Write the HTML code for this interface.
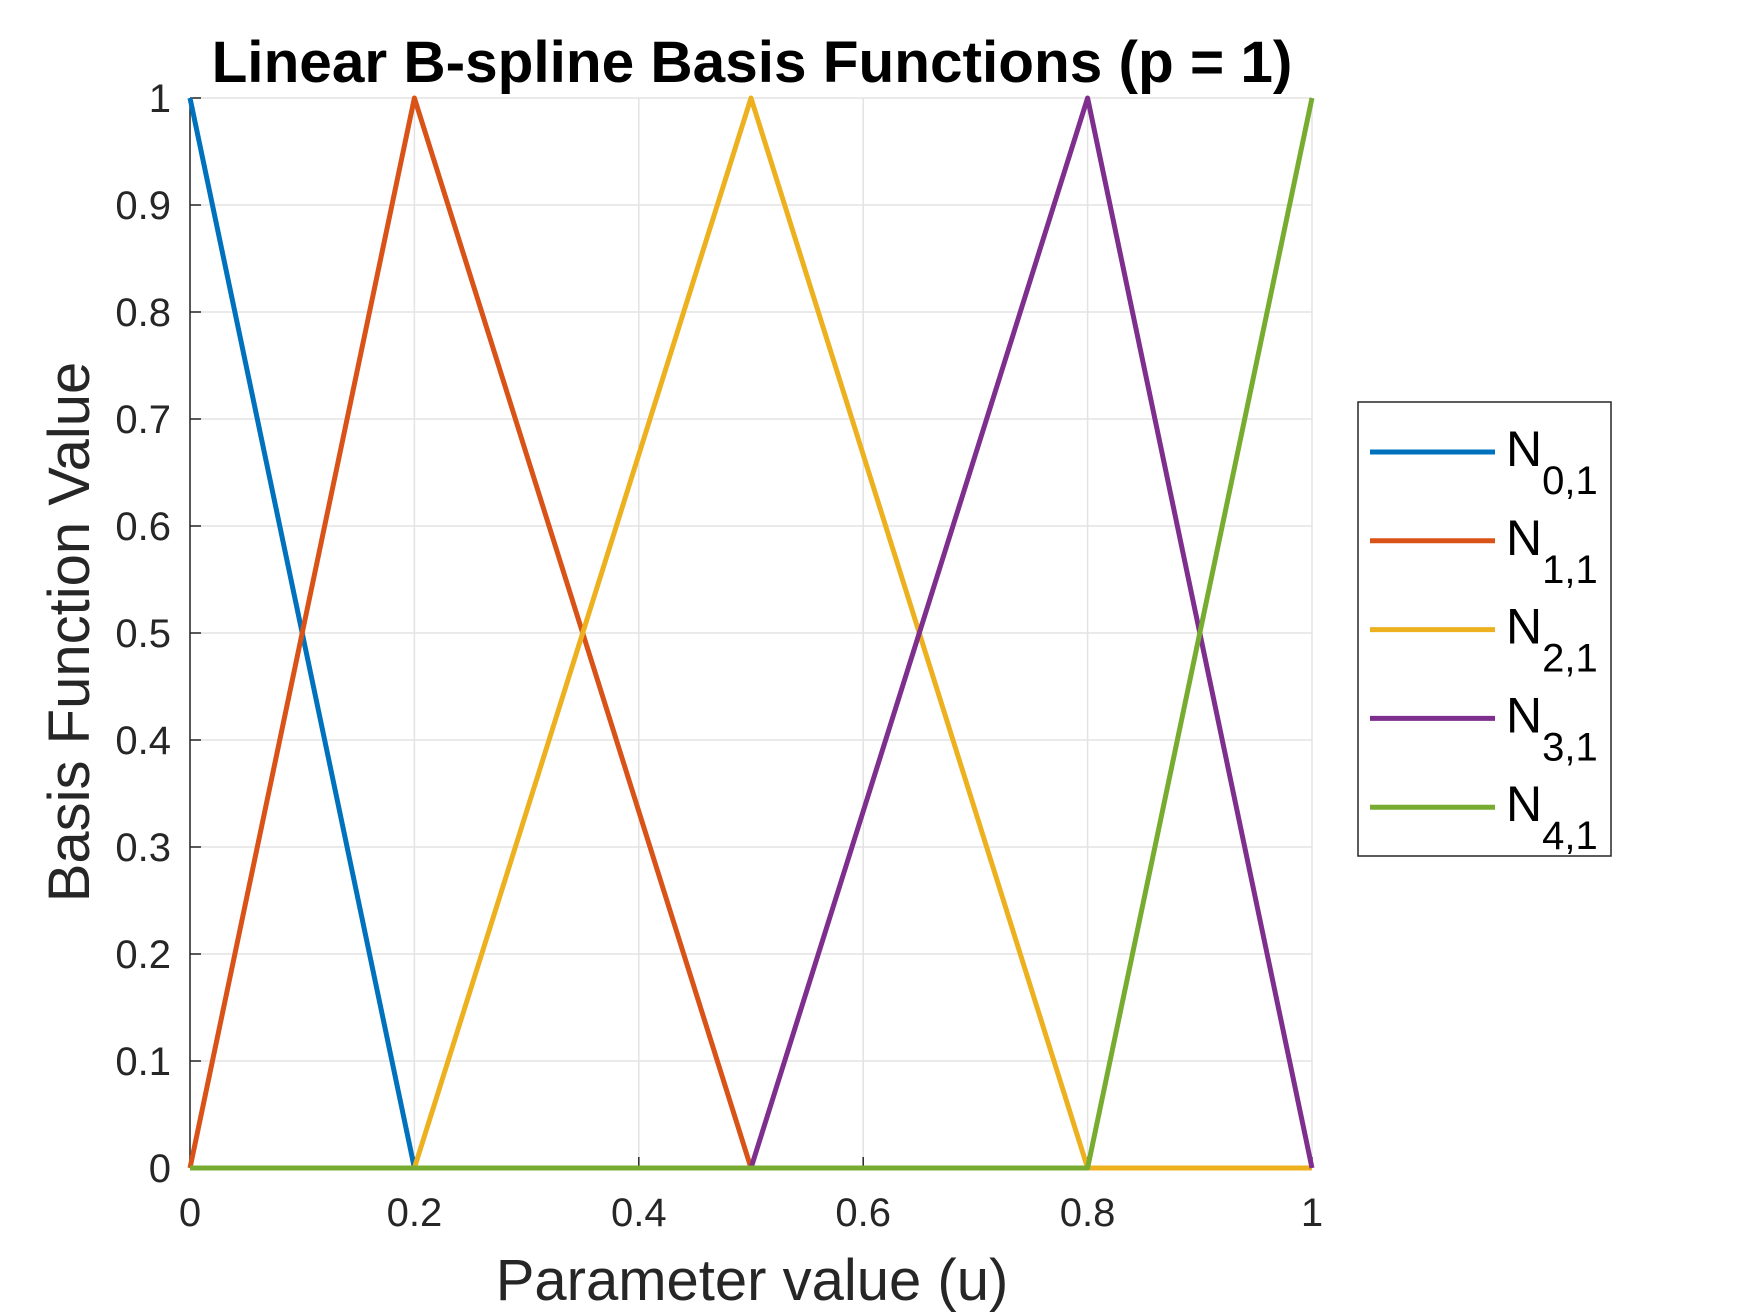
<!DOCTYPE html>
<html><head><meta charset="utf-8"><style>
body{margin:0;background:#fff}
svg{display:block;font-family:"Liberation Sans",Arial,sans-serif}
</style></head><body>
<svg id="c" width="1750" height="1313" viewBox="0 0 1750 1313" xmlns="http://www.w3.org/2000/svg">
<rect width="1750" height="1313" fill="#fff"/>
<g id="grid"></g><g id="axes"></g><g id="series"></g>
<text x="752" y="82" text-anchor="middle" font-size="58.5" font-weight="bold" fill="#000">Linear B-spline Basis Functions (p = 1)</text>
<text x="752" y="1300" text-anchor="middle" font-size="58" fill="#262626">Parameter value (u)</text>
<text transform="translate(89,632) rotate(-90)" text-anchor="middle" font-size="58" fill="#262626">Basis Function Value</text>
<g>
<rect x="1358" y="402" width="253" height="454" fill="#fff" stroke="#262626" stroke-width="1.5"/>
<g id="legend"></g>
</g>
</svg>
<script>
const knots=[0,0.2,0.5,0.8,1];
const names=["0,1","1,1","2,1","3,1","4,1"];
const colors=["#0072BD","#D95319","#EDB120","#7E2F8E","#77AC30"];
const s0=[1,0,0,0,0];
const s1=[0,1,0,0,0];
const s2=[0,0,1,0,0];
const s3=[0,0,0,1,0];
const s4=[0,0,0,0,1];
const series=[s0,s1,s2,s3,s4];
const xTicks=[0,0.2,0.4,0.6,0.8,1];
const xTickLabels=["0","0.2","0.4","0.6","0.8","1"];
const yTicks=[0,0.1,0.2,0.3,0.4,0.5,0.6,0.7,0.8,0.9,1];
const yTickLabels=["0","0.1","0.2","0.3","0.4","0.5","0.6","0.7","0.8","0.9","1"];
const L=190,R=1312,T=98,B=1168;
const X=v=>L+(R-L)*v, Y=v=>B-(B-T)*v;
const NS="http://www.w3.org/2000/svg";
function mk(tag,attrs,parent){const e=document.createElementNS(NS,tag);for(const k in attrs)e.setAttribute(k,attrs[k]);parent.appendChild(e);return e;}
const grid=document.getElementById('grid'),axes=document.getElementById('axes'),ser=document.getElementById('series'),leg=document.getElementById('legend');
xTicks.forEach((v,i)=>{
 const g=mk('line',{x1:X(v),x2:X(v),y1:T,y2:B,stroke:'#e3e3e3','stroke-width':1.5},grid);
 
 
 mk('line',{x1:X(v),x2:X(v),y1:B,y2:B-11,stroke:'#262626','stroke-width':1.5},axes);
 const t=mk('text',{x:X(v),y:1226,'text-anchor':'middle','font-size':40,fill:'#262626'},axes);
 t.textContent=xTickLabels[i];
 
 
});
yTicks.forEach((v,i)=>{
 const g=mk('line',{x1:L,x2:R,y1:Y(v),y2:Y(v),stroke:'#e3e3e3','stroke-width':1.5},grid);
 
 
 mk('line',{x1:L,x2:L+11,y1:Y(v),y2:Y(v),stroke:'#262626','stroke-width':1.5},axes);
 const t=mk('text',{x:171,y:Y(v)+14,'text-anchor':'end','font-size':40,fill:'#262626'},axes);
 t.textContent=yTickLabels[i];
 
 
});
mk('line',{x1:L,x2:L,y1:T,y2:B,stroke:'#262626','stroke-width':1.5},axes);
mk('line',{x1:L,x2:R,y1:B,y2:B,stroke:'#262626','stroke-width':1.5},axes);
series.forEach((s,i)=>{
 const p=mk('polyline',{points:knots.map((k,j)=>X(k)+','+Y(s[j])).join(' '),fill:'none',stroke:colors[i],'stroke-width':5,'stroke-linejoin':'round'},ser);
 
 
 const y=452+i*88.8;
 const l=mk('line',{x1:1370,x2:1495,y1:y,y2:y,stroke:colors[i],'stroke-width':5},leg);
 
 
 const t=mk('text',{x:1506,y:y+14,'font-size':50,fill:'#000'},leg);
 
 
 t.textContent='N';
 const sub=mk('tspan',{'font-size':40,dy:28},t);
 sub.textContent=names[i];
});
</script>
</body></html>
